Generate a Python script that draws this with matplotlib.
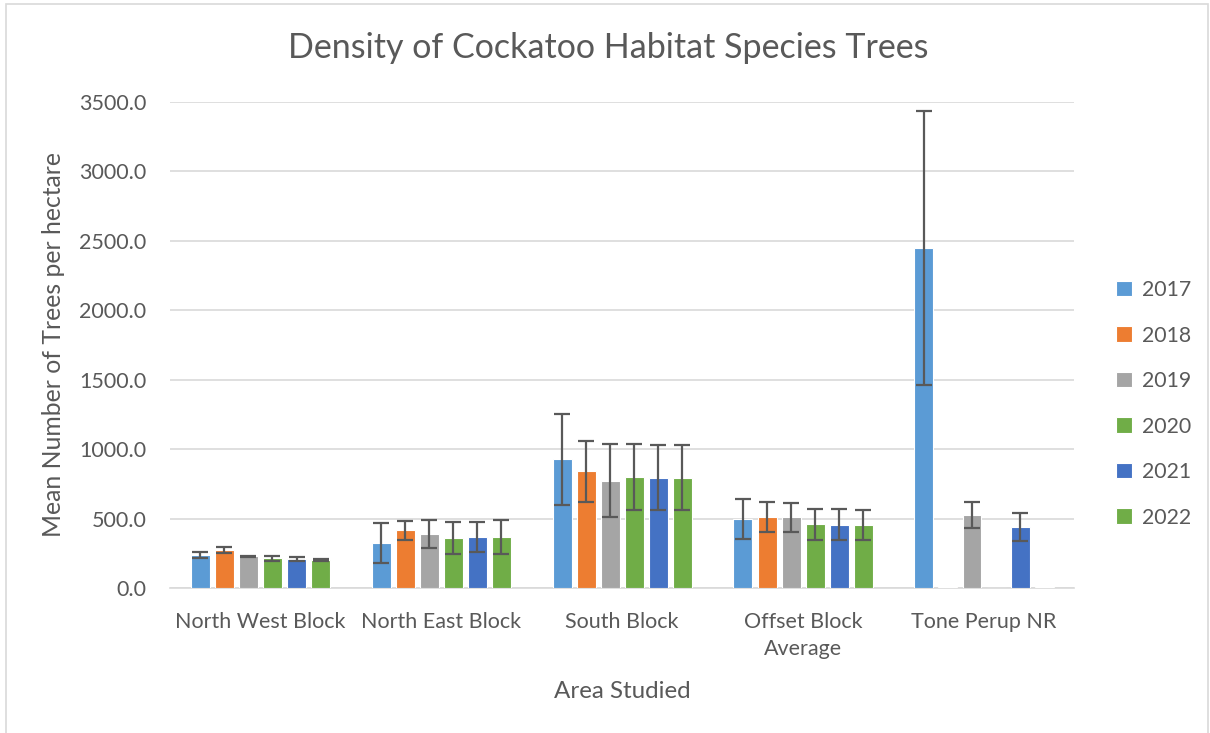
import matplotlib.pyplot as plt
import numpy as np
from matplotlib.patches import Rectangle

# Dados -------------------------------------------------------------
areas = ['North West Block', 'North East Block', 'South Block',
         'Offset Block\nAverage', 'Tone Perup NR']
anos = ['2017', '2018', '2019', '2020', '2021', '2022']

media = {
    '2017': [238, 324, 926, 497, 2445],
    '2018': [273, 415, 840, 511, 8],
    '2019': [228, 389, 773, 508, 526],
    '2020': [213, 362, 802, 458, 0],
    '2021': [209, 367, 795, 456, 439],
    '2022': [201, 367, 795, 453, 8],
}
erro = {
    '2017': [22, 142, 327, 142, 986],
    '2018': [24, 70, 221, 110, 0],
    '2019': [5, 103, 264, 103, 94],
    '2020': [16, 114, 237, 110, 0],
    '2021': [14, 106, 236, 110, 102],
    '2022': [5, 121, 232, 108, 0],
}

cores = ['#5B9BD5', '#ED7D31', '#A5A5A5', '#70AD47', '#4472C4', '#70AD47']
cinza = '#595959'

plt.rcParams['font.family'] = ['Lato', 'DejaVu Sans']

fig = plt.figure(figsize=(12.1, 7.33), dpi=100)
ax = fig.add_axes([0.1405, 0.1978, 0.7475, 0.6632])

# borda da area do grafico
fig.patches.append(Rectangle((0.005, -0.02), 0.993, 1.014, transform=fig.transFigure,
                             fill=False, edgecolor='#d9d9d9', linewidth=1.2))

x = np.arange(len(areas))
passo = 0.133
larg = 0.105
for i, ano in enumerate(anos):
    pos = x + (i - 2.5) * passo
    ax.bar(pos, media[ano], width=larg, color=cores[i], edgecolor='white',
           linewidth=0.8, label=ano, zorder=3)
    e = np.array(erro[ano])
    m = e > 0
    ax.errorbar(pos[m], np.array(media[ano])[m], yerr=e[m], fmt='none',
                ecolor=cinza, elinewidth=1.6, capsize=6, capthick=1.6, zorder=4)

ax.set_xlim(-0.5, len(areas) - 0.5)
ax.set_ylim(0, 3500)
ax.set_yticks(np.arange(0, 3501, 500))
ax.set_yticklabels([f'{v:.1f}' for v in np.arange(0, 3501, 500)])
ax.set_xticks(x)
ax.set_xticklabels(areas, linespacing=1.45)

ax.grid(axis='y', color='#d9d9d9', linewidth=1.2, zorder=0)
for s in ['top', 'right', 'left']:
    ax.spines[s].set_visible(False)
ax.spines['bottom'].set_color('#d9d9d9')
ax.spines['bottom'].set_linewidth(1.2)
ax.tick_params(axis='both', length=0, labelsize=15.5, colors=cinza)
ax.tick_params(axis='y', pad=17)
ax.tick_params(axis='x', pad=17)

# titulo centralizado na figura
fig.text(0.503, 0.934, 'Density of Cockatoo Habitat Species Trees', fontsize=24.5,
         color=cinza, ha='center', va='center')
ax.set_ylabel('Mean Number of Trees per hectare', fontsize=17.8, color=cinza, labelpad=10)
ax.set_xlabel('Area Studied', fontsize=17.4, color=cinza, labelpad=16)

leg = ax.legend(loc='center left', bbox_to_anchor=(1.025, 0.379), frameon=False,
                fontsize=15.3, handlelength=0.75, handleheight=0.75,
                labelspacing=1.2, handletextpad=0.45, labelcolor=cinza)

plt.savefig('out.png', dpi=100)
